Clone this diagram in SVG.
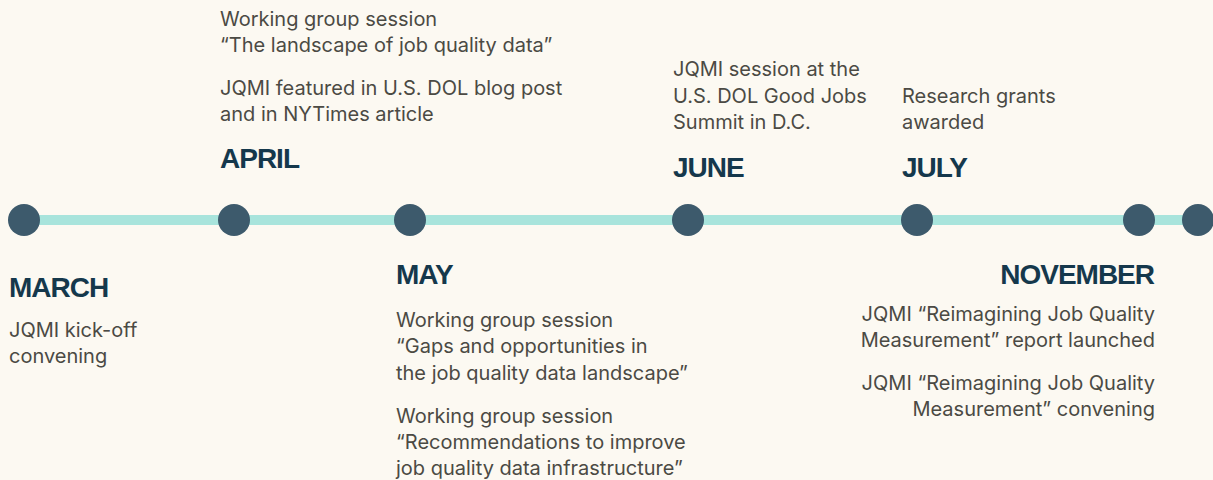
<svg xmlns="http://www.w3.org/2000/svg" width="1213" height="480" viewBox="0 0 1213 480">
  <style>
    .month { font-family: "Liberation Sans", Arial, sans-serif; font-weight: bold; font-size: 28px; fill: #15384c; letter-spacing: -1px; }
    .body { font-family: Inter, "Liberation Sans", sans-serif; font-size: 20px; fill: #4b4a44; }
    .dot { fill: #3d5a6c; }
    .track { stroke: #a8e4dc; stroke-width: 10; }
  </style>
  <rect width="1213" height="480" fill="#fcf9f2"/>

  <g id="connectors">
    <line class="track" x1="24" y1="220" x2="1213" y2="220"/>
  </g>

  <g id="march">
    <circle class="dot" cx="24" cy="220" r="16"/>
    <text class="month" x="9" y="297">MARCH</text>
    <text class="body" x="9" y="337">JQMI kick-off</text>
    <text class="body" x="9" y="363">convening</text>
  </g>

  <g id="april">
    <circle class="dot" cx="234" cy="220" r="16"/>
    <text class="body" x="220" y="26">Working group session</text>
    <text class="body" x="220" y="52">“The landscape of job quality data”</text>
    <text class="body" x="220" y="95">JQMI featured in U.S. DOL blog post</text>
    <text class="body" x="220" y="121">and in NYTimes article</text>
    <text class="month" x="220" y="168">APRIL</text>
  </g>

  <g id="may">
    <circle class="dot" cx="410" cy="220" r="16"/>
    <text class="month" x="396" y="284">MAY</text>
    <text class="body" x="396" y="327">Working group session</text>
    <text class="body" x="396" y="353">“Gaps and opportunities in</text>
    <text class="body" x="396" y="380">the job quality data landscape”</text>
    <text class="body" x="396" y="423">Working group session</text>
    <text class="body" x="396" y="449">“Recommendations to improve</text>
    <text class="body" x="396" y="475">job quality data infrastructure”</text>
  </g>

  <g id="june">
    <circle class="dot" cx="688" cy="220" r="16"/>
    <text class="body" x="673" y="76">JQMI session at the</text>
    <text class="body" x="673" y="103">U.S. DOL Good Jobs</text>
    <text class="body" x="673" y="129">Summit in D.C.</text>
    <text class="month" x="673" y="177">JUNE</text>
  </g>

  <g id="july">
    <circle class="dot" cx="917" cy="220" r="16"/>
    <text class="body" x="902" y="103">Research grants</text>
    <text class="body" x="902" y="129">awarded</text>
    <text class="month" x="902" y="177">JULY</text>
  </g>

  <g id="november">
    <circle class="dot" cx="1139" cy="220" r="16"/>
    <text class="month" x="1154" y="284" text-anchor="end">NOVEMBER</text>
    <text class="body" x="1155" y="321" text-anchor="end">JQMI “Reimagining Job Quality</text>
    <text class="body" x="1155" y="347" text-anchor="end">Measurement” report launched</text>
    <text class="body" x="1155" y="390" text-anchor="end">JQMI “Reimagining Job Quality</text>
    <text class="body" x="1155" y="416" text-anchor="end">Measurement” convening</text>
  </g>

  <g id="end">
    <circle class="dot" cx="1198" cy="220" r="16"/>
  </g>
</svg>
